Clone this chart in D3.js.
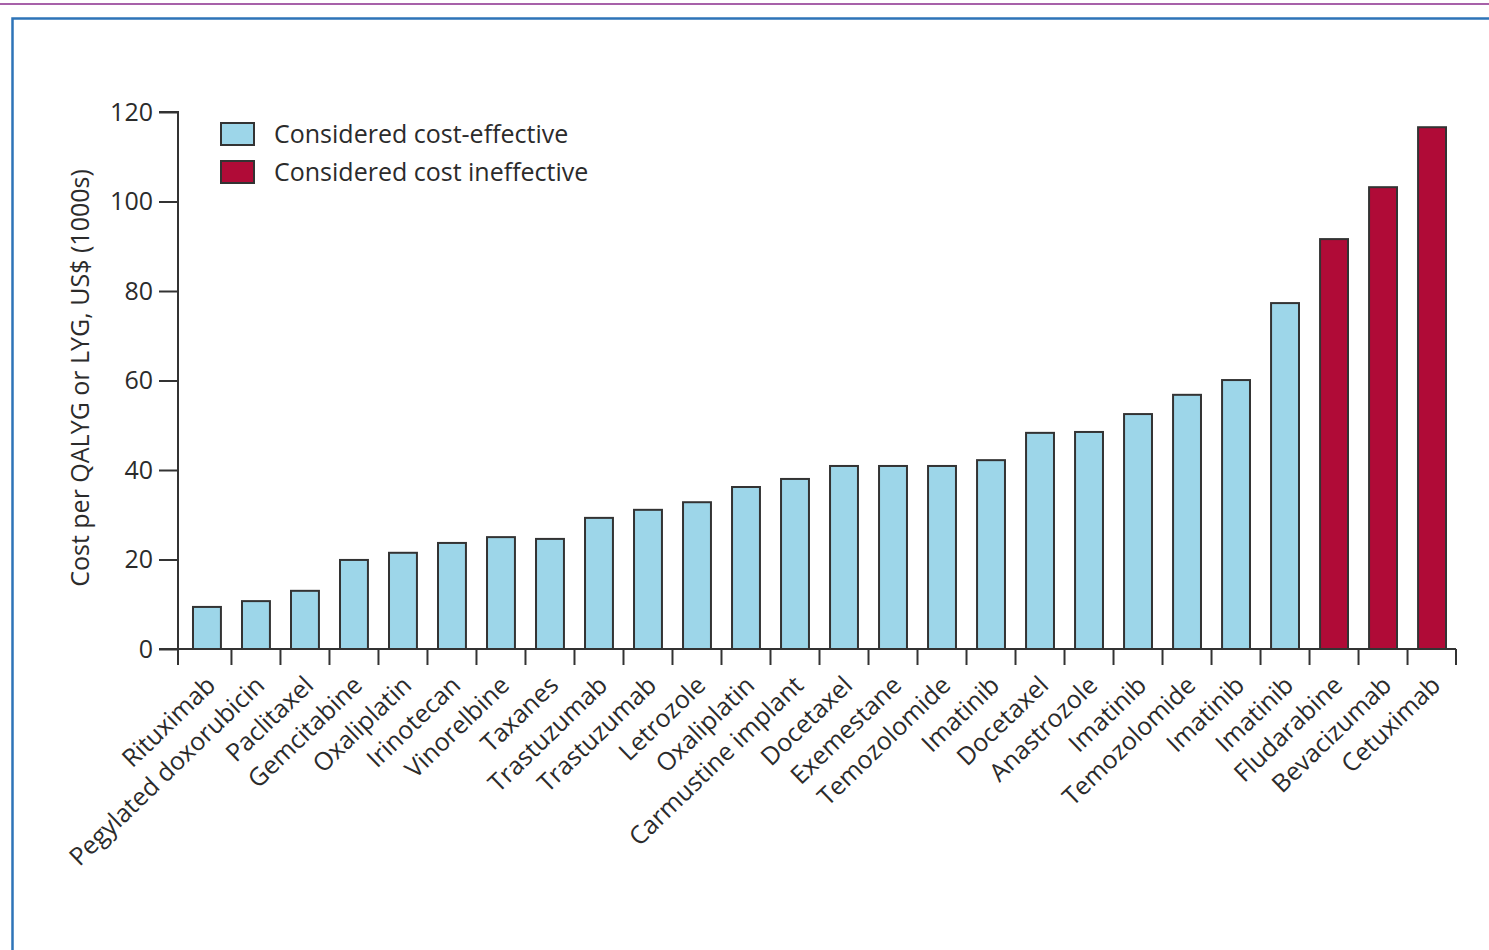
<!DOCTYPE html>
<html>
<head>
<meta charset="utf-8">
<script src="https://cdn.jsdelivr.net/npm/d3@7"></script>
<style>
  html, body { margin: 0; padding: 0; background: #fff; }
  svg { display: block; }
  text { font-family: "Open Sans", "Noto Sans", sans-serif; fill: #2b2b2b; }
</style>
</head>
<body>
<svg id="chart" width="1489" height="950"></svg>
<script>
const drugs = ["Rituximab", "Pegylated doxorubicin", "Paclitaxel", "Gemcitabine", "Oxaliplatin",
  "Irinotecan", "Vinorelbine", "Taxanes", "Trastuzumab", "Trastuzumab", "Letrozole", "Oxaliplatin",
  "Carmustine implant", "Docetaxel", "Exemestane", "Temozolomide", "Imatinib", "Docetaxel",
  "Anastrozole", "Imatinib", "Temozolomide", "Imatinib", "Imatinib", "Fludarabine",
  "Bevacizumab", "Cetuximab"];
const costs = [9.4, 10.7, 13.0, 19.9, 21.5, 23.7, 25.0, 24.6, 29.3, 31.1, 32.8, 36.2,
  38.0, 40.9, 40.9, 40.9, 42.2, 48.3, 48.5, 52.5, 56.8, 60.1, 77.3, 91.6, 103.2, 116.6];
const costEffective = [true, true, true, true, true, true, true, true, true, true, true, true,
  true, true, true, true, true, true, true, true, true, true, true, false, false, false];
const yTicks = [0, 20, 40, 60, 80, 100, 120];
const legendLabels = ["Considered cost-effective", "Considered cost ineffective"];
const yTitle = "Cost per QALYG or LYG, US$ (1000s)";

const colorEff = "#9dd6e9";
const colorIneff = "#b00b37";
const strokeCol = "#333333";

const svg = d3.select("#chart");

// page decorations
svg.append("line").attr("x1", 0).attr("x2", 1489).attr("y1", 4).attr("y2", 4)
  .attr("stroke", "#8a2c8c").attr("stroke-width", 1.5);
svg.append("path").attr("d", "M12.5,960 L12.5,18.5 L1500,18.5")
  .attr("fill", "none").attr("stroke", "#2e74b8").attr("stroke-width", 2.5);

const idx = drugs.map((d, i) => i);
const x0 = 178, x1 = 1456;
const x = d3.scaleBand().domain(idx).range([x0, x1])
  .paddingInner(0.43).paddingOuter(0.255).align(0.6);
const y = d3.scaleLinear().domain([0, 120]).range([649, 112]);

// bars
svg.append("g").selectAll("rect").data(idx).join("rect")
  .attr("x", i => x(i))
  .attr("y", i => y(costs[i]))
  .attr("width", x.bandwidth())
  .attr("height", i => y(0) - y(costs[i]))
  .attr("fill", i => costEffective[i] ? colorEff : colorIneff)
  .attr("stroke", strokeCol).attr("stroke-width", 2);

// y axis
const yAxis = d3.axisLeft(y).tickValues(yTicks).tickSize(19).tickPadding(6);
const gy = svg.append("g").attr("transform", `translate(${x0},0)`).call(yAxis);
gy.select(".domain").attr("stroke", strokeCol).attr("stroke-width", 2).attr("d", `M-19,${y(120)}H0V${y(0)}`);
gy.selectAll(".tick line").attr("stroke", strokeCol).attr("stroke-width", 2);
gy.selectAll(".tick text").style("font-family", "'Open Sans', sans-serif").style("font-size", "25px").attr("fill", "#2b2b2b");

// x axis line and ticks between bars
const gap = x.step() * x.paddingInner();
const tickPos = idx.map(i => i === 0 ? x0 : x(i) - gap / 2).concat([x1]);
svg.append("line").attr("x1", x0 - 19).attr("x2", x1).attr("y1", y(0)).attr("y2", y(0))
  .attr("stroke", strokeCol).attr("stroke-width", 2);
svg.append("g").selectAll("line").data(tickPos).join("line")
  .attr("x1", d => d).attr("x2", d => d).attr("y1", y(0)).attr("y2", y(0) + 16)
  .attr("stroke", strokeCol).attr("stroke-width", 2);

// x labels
svg.append("g").selectAll("text").data(idx).join("text")
  .attr("transform", i => `translate(${x(i) + x.bandwidth() / 2 + 10},${y(0) + 38}) rotate(-44)`)
  .attr("text-anchor", "end")
  .style("font-size", "25px")
  .text(i => drugs[i]);

// y title
svg.append("text")
  .attr("transform", `translate(89,${378}) rotate(-90)`)
  .attr("text-anchor", "middle")
  .style("font-size", "25px")
  .text(yTitle);

// legend
const legend = svg.append("g");
[colorEff, colorIneff].forEach((c, i) => {
  legend.append("rect").attr("x", 221).attr("y", 123 + i * 38).attr("width", 33).attr("height", 22)
    .attr("fill", c).attr("stroke", strokeCol).attr("stroke-width", 2);
  legend.append("text").attr("x", 274).attr("y", 143 + i * 38)
    .style("font-size", "25px").text(legendLabels[i]);
});
</script>
</body>
</html>
